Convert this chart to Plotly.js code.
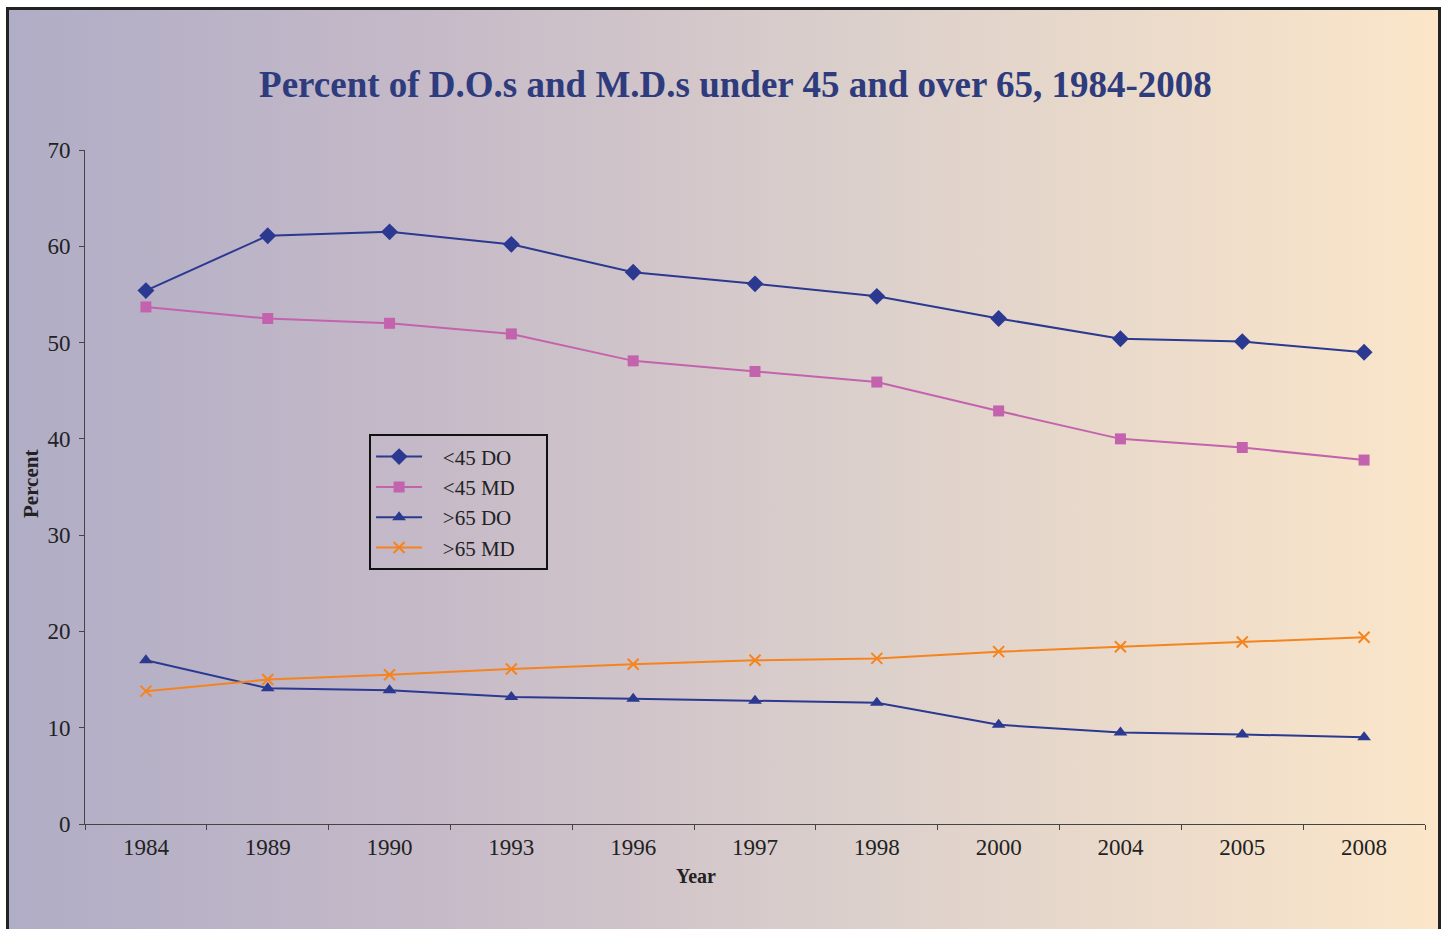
<!DOCTYPE html>
<html>
<head>
<meta charset="utf-8">
<script src="https://cdn.plot.ly/plotly-3.0.1.min.js"></script>
<style>
html, body { margin:0; padding:0; width:1442px; height:929px; overflow:hidden; background:#ffffff; }
#bg { position:absolute; left:6px; top:7px; width:1435px; height:940px; border:3px solid #222222; box-sizing:border-box;
      background: linear-gradient(to right, #b0adc6 0%, #c6bac8 30%, #dcd0cc 60%, #fbe6c9 100%); }
#chart { position:absolute; left:0; top:0; width:1442px; height:929px; }
</style>
</head>
<body>
<div id="bg"></div>
<div id="chart"></div>
<script>
const years = ["1984","1989","1990","1993","1996","1997","1998","2000","2004","2005","2008"];
const seriesNames = ["<45 DO", "<45 MD", ">65 DO", ">65 MD"];
const under45DO = [55.4, 61.1, 61.5, 60.2, 57.3, 56.1, 54.8, 52.5, 50.4, 50.1, 49.0];
const under45MD = [53.7, 52.5, 52.0, 50.9, 48.1, 47.0, 45.9, 42.9, 40.0, 39.1, 37.8];
const over65DO  = [17.0, 14.1, 13.9, 13.2, 13.0, 12.8, 12.6, 10.3, 9.5, 9.3, 9.0];
const over65MD  = [13.8, 15.0, 15.5, 16.1, 16.6, 17.0, 17.2, 17.9, 18.4, 18.9, 19.4];
const yTicks = [0, 10, 20, 30, 40, 50, 60, 70];

const serif = "Liberation Serif, DejaVu Serif, serif";
const navy = "#2b3990";

function esc(s) { return s.replace(/</g, "&lt;").replace(/>/g, "&gt;"); }
const pad = (s) => "&nbsp;&nbsp;&nbsp;" + esc(s) + "&nbsp;&nbsp;&nbsp;&nbsp;&nbsp;";

const traces = [
  {name:pad(seriesNames[0]), x:years, y:under45DO, mode:"lines+markers", line:{color:navy, width:2},
   marker:{symbol:"diamond", size:13, color:navy}},
  {name:pad(seriesNames[1]), x:years, y:under45MD, mode:"lines+markers", line:{color:"#c463ad", width:2},
   marker:{symbol:"square", size:11, color:"#c463ad"}},
  {name:pad(seriesNames[2]), x:years, y:over65DO, mode:"lines+markers", line:{color:navy, width:2},
   marker:{symbol:"triangle-up", size:12, color:navy}},
  {name:pad(seriesNames[3]), x:years, y:over65MD, mode:"lines+markers", line:{color:"#f5841f", width:2},
   marker:{symbol:"x-thin-open", size:11, color:"#f5841f", line:{width:2, color:"#f5841f"}}}
];

const layout = {
  width:1442, height:929,
  paper_bgcolor:"rgba(0,0,0,0)", plot_bgcolor:"rgba(0,0,0,0)",
  margin:{l:85, r:17, t:150, b:105},
  showlegend:true,
  title:{text:"Percent of D.O.s and M.D.s under 45 and over 65, 1984-2008",
         font:{family:serif, size:37, color:"#2e3b7c", weight:"bold"},
         x:0.51, xanchor:"center", y:0.909, yanchor:"middle"},
  font:{family:serif, color:"#222222"},
  xaxis:{type:"category", range:[-0.5, 10.5], tickson:"boundaries", ticks:"outside", ticklen:5,
         tickcolor:"#444444", showline:true, linecolor:"#444444", linewidth:1, showgrid:false, zeroline:false,
         ticklabelstandoff:2,
         tickfont:{family:serif, size:23, color:"#222222"}, automargin:false},
  yaxis:{range:[0,70], tickvals:yTicks, ticks:"outside", ticklen:5, tickcolor:"#444444",
         showline:true, linecolor:"#444444", linewidth:1, showgrid:false, zeroline:false,
         ticklabelstandoff:4,
         tickfont:{family:serif, size:23, color:"#222222"}, automargin:false},
  legend:{x:0.212, y:0.578, xanchor:"left", yanchor:"top", bgcolor:"rgba(0,0,0,0)",
          bordercolor:"#111111", borderwidth:2, font:{family:serif, size:21, color:"#222222"},
          tracegroupgap:0, itemwidth:46},
  annotations:[
    {text:"<b>Year</b>", xref:"paper", yref:"paper", x:(696-85)/1340, y:-(876-824)/674,
     xanchor:"center", yanchor:"middle", showarrow:false, font:{family:serif, size:20, color:"#222222"}},
    {text:"<b>Percent</b>", xref:"paper", yref:"paper", x:-(85-31)/1340, y:(824-484)/674,
     xanchor:"center", yanchor:"middle", textangle:-90, showarrow:false, font:{family:serif, size:21, color:"#222222"}}
  ]
};

Plotly.newPlot("chart", traces, layout, {displayModeBar:false, staticPlot:true});
</script>
</body>
</html>
